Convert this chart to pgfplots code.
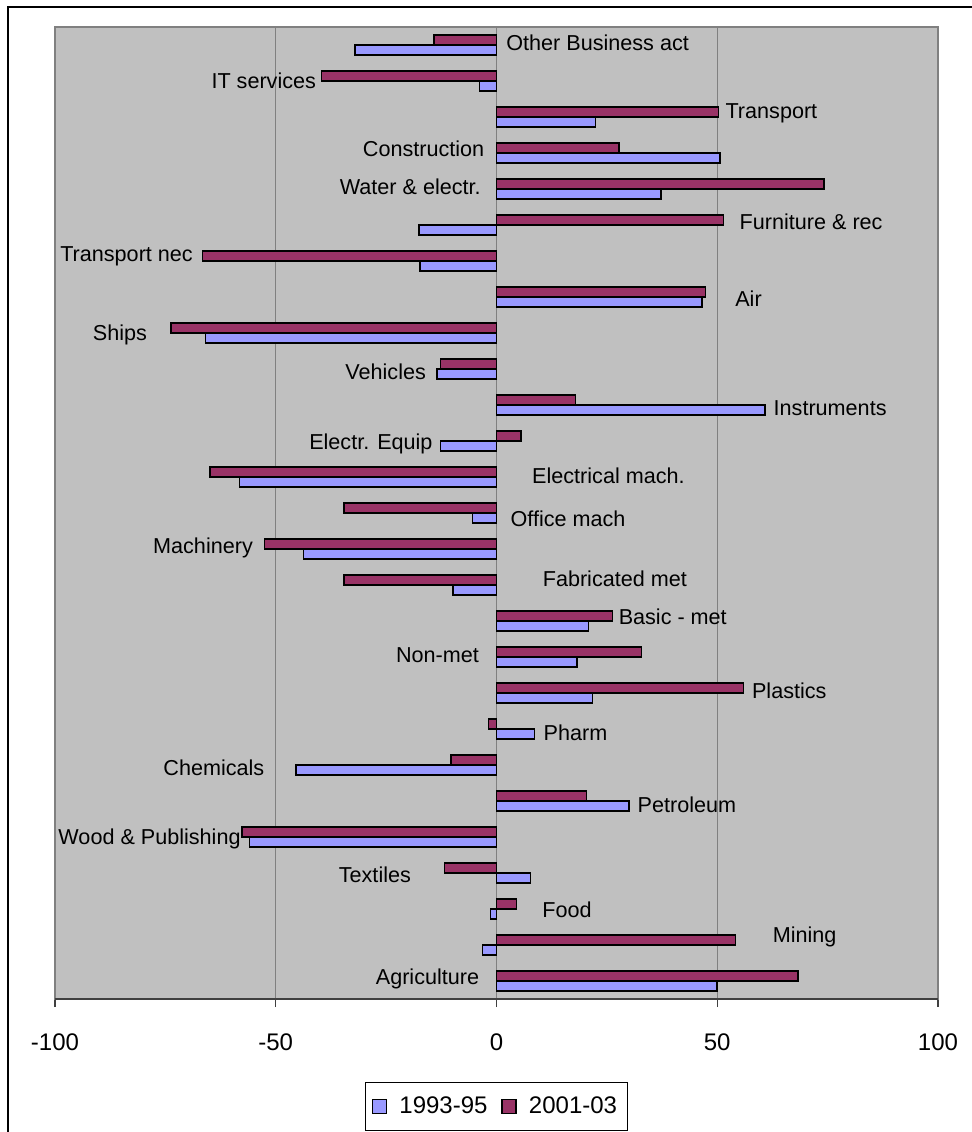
\documentclass[border=0pt]{standalone}
\usepackage{pgfplots}
\pgfplotsset{compat=1.18}
\usepackage{pgfplotstable}
\usepackage{fontspec}
\setmainfont{Liberation Sans}

\definecolor{serA}{HTML}{9999FF}
\definecolor{serB}{HTML}{993366}
\definecolor{plotbg}{HTML}{C0C0C0}
\definecolor{plotgray}{HTML}{808080}

\pgfplotsset{square legend/.style={legend image code/.code={%
  \draw[##1] (0pt,-3.5pt) rectangle (7pt,3.5pt);}}}

% growth by sector, % (index 0 = Agriculture ... 26 = Other Business act)
\pgfplotstableread{
idx p9395 p0103
0   50.0   68.3
1   -3.2   54.1
2   -1.4    4.5
3    7.7  -11.8
4  -55.9  -57.6
5   30.0   20.4
6  -45.4  -10.3
7    8.6   -1.8
8   21.8   55.9
9   18.2   32.8
10  20.8   26.3
11  -9.9  -34.5
12 -43.7  -52.5
13  -5.4  -34.5
14 -58.2  -64.9
15 -12.7    5.5
16  60.8   17.9
17 -13.5  -12.7
18 -65.9  -73.7
19  46.5   47.3
20 -17.3  -66.6
21 -17.6   51.4
22  37.3   74.2
23  50.6   27.7
24  22.4   50.3
25  -3.9  -39.6
26 -32.1  -14.1
}\growth

\begin{document}
\begin{tikzpicture}
\useasboundingbox (0,0) rectangle (486pt,566pt);
\draw[line width=1pt] (3.75pt,0) -- (3.75pt,562.5pt) -- (486pt,562.5pt);
\begin{axis}[
  at={(27.5pt,66.5pt)}, anchor=south west,
  scale only axis, width=441.5pt, height=486pt,
  xbar, bar width=5pt,
  xmin=-100, xmax=100, ymin=-0.5, ymax=26.5,
  xtick={-100,-50,0,50,100},
  xticklabels={-100,-50,0,50,100},
  ytick=\empty,
  xmajorgrids, major grid style={plotgray, line width=0.6pt},
  axis background/.style={fill=plotbg},
  axis line style={plotgray, line width=0.8pt},
  tick align=outside, xtick pos=bottom, major tick length=4pt,
  tick style={black!75, line width=0.7pt},
  xticklabel style={font=\fontsize{12}{14}\selectfont, yshift=-10pt},
  clip=false,
  legend columns=2,
  legend style={at={(axis description cs:0.5,0)}, anchor=center, yshift=-53.75pt,
    draw=black, line width=0.5pt, fill=white,
    font=\fontsize{12}{14}\selectfont, inner xsep=3pt, inner ysep=5pt,
    /tikz/every odd column/.append style={column sep=4pt},
    /tikz/every even column/.append style={column sep=5pt}},
]
\addplot[fill=serA, draw=black, line width=0.75pt, bar shift=-2.5pt, square legend]
  table[x=p9395, y=idx] {\growth};
\addplot[fill=serB, draw=black, line width=0.75pt, bar shift=2.5pt, square legend]
  table[x=p0103, y=idx] {\growth};
\legend{1993-95, 2001-03}

\draw[black!75, line width=0.9pt] (rel axis cs:0,0) -- (rel axis cs:1,0);

% sector names
\begin{scope}[every node/.style={inner sep=0pt, font=\fontsize{10.8}{13}\selectfont}]
\node[anchor=west] at (axis cs:2.15,26.06) {Other Business act};
\node[anchor=east] at (axis cs:-40.8,25.01) {IT services};
\node[anchor=west] at (axis cs:51.8,24.11) {Transport};
\node[anchor=east] at (axis cs:-2.7,23.11) {Construction};
\node[anchor=east] at (axis cs:-3.5,22.06) {Water \& electr.};
\node[anchor=west] at (axis cs:55.0,21.08) {Furniture \& rec};
\node[anchor=east] at (axis cs:-68.7,20.12) {Transport nec};
\node[anchor=west] at (axis cs:54.0,18.96) {Air};
\node[anchor=west] at (axis cs:-91.5,17.96) {Ships};
\node[anchor=east] at (axis cs:-15.9,16.93) {Vehicles};
\node[anchor=west] at (axis cs:62.7,15.91) {Instruments};
\node[anchor=east] at (axis cs:-14.4,14.91) {Electr. Equip};
\node[anchor=west] at (axis cs:8.0,14.04) {Electrical mach.};
\node[anchor=west] at (axis cs:3.1,12.83) {Office mach};
\node[anchor=east] at (axis cs:-55.1,12.02) {Machinery};
\node[anchor=west] at (axis cs:10.4,11.16) {Fabricated met};
\node[anchor=west] at (axis cs:27.6,10.12) {Basic - met};
\node[anchor=east] at (axis cs:-3.9,9.06) {Non-met};
\node[anchor=west] at (axis cs:57.8,8.06) {Plastics};
\node[anchor=west] at (axis cs:10.6,6.90) {Pharm};
\node[anchor=east] at (axis cs:-52.5,5.91) {Chemicals};
\node[anchor=west] at (axis cs:31.9,4.89) {Petroleum};
\node[anchor=west] at (axis cs:-99.3,3.94) {Wood \& Publishing};
\node[anchor=east] at (axis cs:-19.3,2.96) {Textiles};
\node[anchor=west] at (axis cs:10.3,1.97) {Food};
\node[anchor=west] at (axis cs:62.5,1.23) {Mining};
\node[anchor=east] at (axis cs:-3.85,0.05) {Agriculture};
\end{scope}
\end{axis}
\end{tikzpicture}
\end{document}
